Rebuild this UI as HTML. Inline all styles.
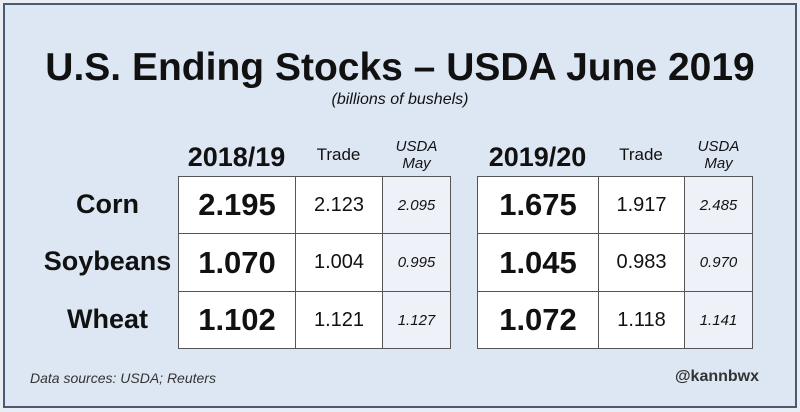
<!DOCTYPE html>
<html><head><meta charset="utf-8"><style>
body{margin:0;width:800px;height:412px;overflow:hidden;background:#e9eef5;font-family:"Liberation Sans",sans-serif;}
#frame{position:absolute;left:3px;top:3px;width:790px;height:401px;border:2px solid #4a5a70;background:#dde7f3;}
.t{position:absolute;white-space:nowrap;color:#111;}
.cell{position:absolute;border:1px solid #555;box-sizing:border-box;display:flex;align-items:center;justify-content:center;color:#111;}
</style></head><body>
<div id="frame"></div>
<div class="t" style="left:0;width:800px;text-align:center;top:46px;font-size:39px;font-weight:bold;">U.S. Ending Stocks – USDA June 2019</div>
<div class="t" style="left:0;width:800px;text-align:center;top:91px;font-size:16px;font-style:italic;">(billions of bushels)</div>
<div id="tbl"></div>
<div class="t" style="left:30px;top:370px;font-size:14px;font-style:italic;color:#333;">Data sources: USDA; Reuters</div>
<div class="t" style="right:41px;top:368px;font-size:16px;font-weight:bold;color:#333;">@kannbwx</div>
<script>
const crops=["Corn","Soybeans","Wheat"];
const years=["2018/19","2019/20"];
const usda=[["2.195","1.070","1.102"],["1.675","1.045","1.072"]];
const trade=[["2.123","1.004","1.121"],["1.917","0.983","1.118"]];
const may=[["2.095","0.995","1.127"],["2.485","0.970","1.141"]];
const root=document.getElementById('tbl');
const rowY=[176,233,291,348];
const colX=[[178,295,382,451],[477,598,684,753]];
function mk(cls,name,style,txt){const d=document.createElement('div');d.className=cls;


d.style.cssText=style;d.textContent=txt;root.appendChild(d);return d;}
crops.forEach((c,i)=>{mk('t','row-label-'+c.toLowerCase(),`left:20px;width:175px;text-align:center;top:${rowY[i]+13}px;font-size:27px;font-weight:bold;`,c);});
years.forEach((y,g)=>{const X=colX[g];
mk('t','year-header-'+g,`left:${X[0]}px;width:${X[1]-X[0]}px;text-align:center;top:142px;font-size:27px;font-weight:bold;`,y);
mk('t','trade-header-'+g,`left:${X[1]}px;width:${X[2]-X[1]}px;text-align:center;top:145px;font-size:17px;`,"Trade");
mk('t','usda-may-header-'+g,`left:${X[2]}px;width:${X[3]-X[2]}px;text-align:center;top:138px;font-size:15px;font-style:italic;line-height:17px;white-space:pre-line;`,"USDA\nMay");
crops.forEach((c,i)=>{const top=rowY[i],h=rowY[i+1]-rowY[i]+1;
mk('cell','usda-value-'+g+'-'+i,`left:${X[0]}px;top:${top}px;width:${X[1]-X[0]+1}px;height:${h}px;background:#fff;font-size:31px;font-weight:bold;`,usda[g][i]);
mk('cell','trade-value-'+g+'-'+i,`left:${X[1]}px;top:${top}px;width:${X[2]-X[1]+1}px;height:${h}px;background:#fff;font-size:20px;`,trade[g][i]);
mk('cell','may-value-'+g+'-'+i,`left:${X[2]}px;top:${top}px;width:${X[3]-X[2]}px;height:${h}px;background:#eef2f8;font-size:15px;font-style:italic;`,may[g][i]);
});});
</script>
</body></html>
